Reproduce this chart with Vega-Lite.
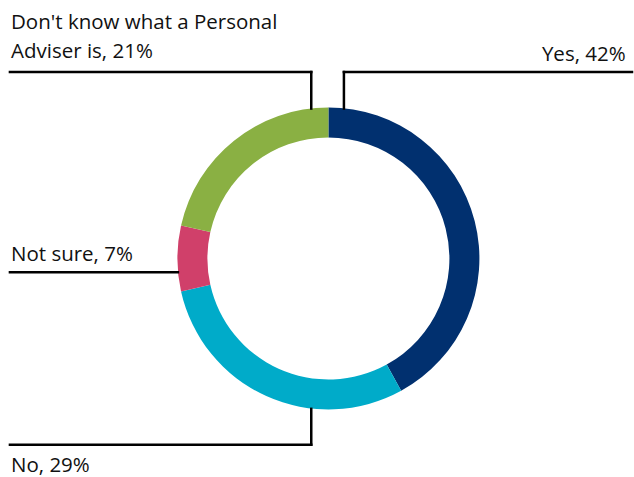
{
  "$schema": "https://vega.github.io/schema/vega-lite/v6.json",
  "width": 634,
  "height": 477,
  "padding": 0,
  "autosize": {"type": "fit", "contains": "padding"},
  "background": "white",
  "config": {"view": {"stroke": null}},
  "datasets": {
    "slices": [
      {"answer": "Yes", "k": 1, "share": 42},
      {"answer": "No", "k": 2, "share": 29.5},
      {"answer": "Not sure", "k": 3, "share": 7},
      {"answer": "Don't know", "k": 4, "share": 21.5}
    ],
    "leaders": [
      {"x": 10.3, "y": 99.7, "x2": 10.3, "y2": 124},
      {"x": 10.3, "y": 124, "x2": 201.7, "y2": 124},
      {"x": -11.4, "y": 99.7, "x2": -11.4, "y2": 124},
      {"x": -11.4, "y": 124, "x2": -211.6, "y2": 124},
      {"x": -100, "y": -9.2, "x2": -211.6, "y2": -9.2},
      {"x": -11.4, "y": -100, "x2": -11.4, "y2": -123.8},
      {"x": -11.4, "y": -123.8, "x2": -211.6, "y2": -123.8}
    ],
    "rightLabels": [
      {"x": 197.5, "y": 131.1, "label": ["Yes, 42%"]}
    ],
    "leftLabels": [
      {"x": -210.9, "y": 152.5, "label": ["Don't know what a Personal", "Adviser is, 21%"]},
      {"x": -210.9, "y": -1.8, "label": ["Not sure, 7%"]},
      {"x": -210.9, "y": -142, "label": ["No, 29%"]}
    ]
  },
  "layer": [
    {
      "data": {"name": "slices"},
      "mark": {"type": "arc", "outerRadius": 151, "innerRadius": 121, "stroke": null},
      "encoding": {
        "x": {"datum": 0, "type": "quantitative", "scale": {"domain": [-218.2, 201.7], "nice": false, "zero": false}, "axis": null},
        "y": {"datum": 0, "type": "quantitative", "scale": {"domain": [-144, 171.9], "nice": false, "zero": false}, "axis": null},
        "theta": {"field": "share", "type": "quantitative", "stack": true},
        "order": {"field": "k", "type": "quantitative"},
        "color": {
          "field": "answer",
          "type": "nominal",
          "scale": {"domain": ["Yes", "No", "Not sure", "Don't know"], "range": ["#01306f", "#00abc9", "#d0406a", "#8ab043"]},
          "legend": null
        }
      }
    },
    {
      "data": {"name": "leaders"},
      "mark": {"type": "rule", "color": "black", "strokeWidth": 2.5, "strokeCap": "square"},
      "encoding": {
        "x": {"field": "x", "type": "quantitative", "scale": {"domain": [-218.2, 201.7], "nice": false, "zero": false}, "axis": null},
        "y": {"field": "y", "type": "quantitative", "scale": {"domain": [-144, 171.9], "nice": false, "zero": false}, "axis": null},
        "x2": {"field": "x2"},
        "y2": {"field": "y2"}
      }
    },
    {
      "data": {"name": "leftLabels"},
      "mark": {"type": "text", "font": "Open Sans", "fontSize": 20.5, "color": "#111", "baseline": "alphabetic", "align": "left", "lineHeight": 29},
      "encoding": {
        "x": {"field": "x", "type": "quantitative", "scale": {"domain": [-218.2, 201.7], "nice": false, "zero": false}, "axis": null},
        "y": {"field": "y", "type": "quantitative", "scale": {"domain": [-144, 171.9], "nice": false, "zero": false}, "axis": null},
        "text": {"field": "label"}
      }
    },
    {
      "data": {"name": "rightLabels"},
      "mark": {"type": "text", "font": "Open Sans", "fontSize": 20.5, "color": "#111", "baseline": "alphabetic", "align": "right"},
      "encoding": {
        "x": {"field": "x", "type": "quantitative", "scale": {"domain": [-218.2, 201.7], "nice": false, "zero": false}, "axis": null},
        "y": {"field": "y", "type": "quantitative", "scale": {"domain": [-144, 171.9], "nice": false, "zero": false}, "axis": null},
        "text": {"field": "label"}
      }
    }
  ]
}
